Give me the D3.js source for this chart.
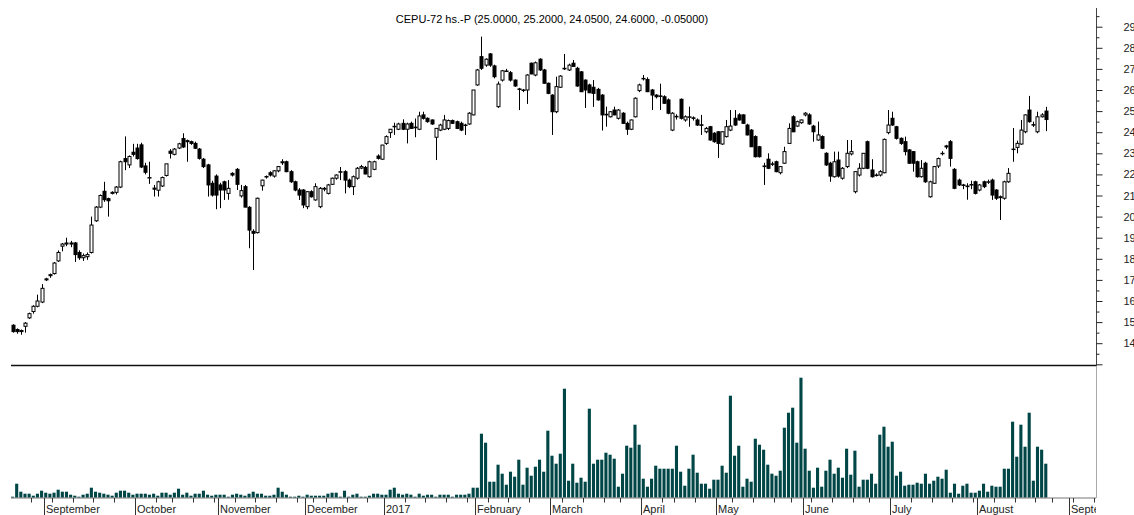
<!DOCTYPE html>
<html>
<head>
<meta charset="utf-8">
<script src="https://cdn.jsdelivr.net/npm/d3@7"></script>
<style>
    body { margin: 0; background: #fff; }
    svg { display: block; font-family: "Liberation Sans", Arial, sans-serif; }
</style>
</head>
<body>
<svg id="chart" width="1134" height="515"></svg>
<script>
var title = "CEPU-72 hs.-P (25.0000, 25.2000, 24.0500, 24.6000, -0.05000)";

// trading calendar (market closed on these days)
var firstDay = "2016-08-22";
var lastAxisDay = "2017-09-15";
var holidays = ["2016-10-10", "2016-11-28", "2016-12-08", "2016-12-09", "2016-12-30",
    "2017-02-27", "2017-02-28", "2017-03-24", "2017-04-13", "2017-04-14",
    "2017-05-01", "2017-05-25", "2017-06-20", "2017-08-21"];

var monthNames = ["January", "February", "March", "April", "May", "June", "July",
    "August", "September", "October", "November", "December"];
var priceLabels = [14, 15, 16, 17, 18, 19, 20, 21, 22, 23, 24, 25, 26, 27, 28, 29];

var open = [14.85,14.65,14.55,14.8,15.2,15.5,15.75,15.95,17.0,17.2,
    17.3,17.9,18.6,18.7,18.75,18.75,18.3,18.05,18.1,18.3,
    19.8,20.45,21.2,20.85,21.1,21.15,21.4,22.75,22.45,23.05,
    23.25,23.4,22.4,21.85,21.35,21.25,21.45,21.95,23.1,22.95,
    23.25,23.7,23.6,23.55,23.47,23.2,22.72,22.45,21.58,21.92,
    21.5,21.65,21.1,22.05,22.24,20.98,21.42,20.44,19.3,19.24,
    21.46,21.9,22.08,21.92,22.17,22.55,22.6,22.13,21.65,21.26,
    21.26,20.47,21.18,20.79,20.47,21.3,21.1,21.53,21.82,22.1,
    22.13,21.73,21.42,21.82,22.3,22.33,21.89,22.24,22.87,22.72,
    23.47,23.98,24.28,24.14,24.42,24.14,24.42,24.24,24.14,24.82,
    24.66,24.58,23.76,24.1,24.14,24.18,24.55,24.5,24.42,24.34,
    24.39,24.82,26.24,27.58,27.18,27.71,27.14,25.21,26.47,26.9,
    26.82,26.47,26.05,26.0,26.0,27.27,26.71,27.46,26.95,26.32,
    25.76,24.97,26.13,27.03,26.95,27.27,27.03,26.86,26.47,26.24,
    26.13,26.03,25.76,24.85,24.73,25.05,24.66,24.9,24.42,24.14,
    24.73,25.97,26.55,26.5,26.0,25.76,25.72,25.68,25.53,24.1,
    24.75,25.56,24.58,24.73,24.68,24.58,24.35,24.02,24.26,23.95,
    24.02,23.44,23.79,24.1,24.66,24.82,24.82,24.34,24.1,23.79,
    23.31,22.4,22.72,22.5,22.6,22.08,22.53,23.47,24.73,24.29,
    24.45,24.82,24.82,24.29,23.63,23.79,23.0,22.53,21.89,22.68,
    21.82,22.37,22.97,21.18,21.97,22.29,23.55,22.21,21.97,21.97,
    22.08,23.98,24.66,24.26,23.71,23.55,23.16,23.08,22.6,21.89,
    22.53,20.94,21.58,22.4,23.0,23.35,23.55,22.24,21.73,21.5,
    21.45,21.5,21.65,21.26,21.65,21.65,21.73,21.26,20.94,20.87,
    21.65,23.2,23.28,23.44,24.02,25.05,24.36,24.02,24.73,25.0];

var high = [14.9,14.7,14.65,15.0,15.45,15.8,16.3,16.8,17.1,17.3,
    17.85,18.4,18.75,19.0,18.85,18.8,18.4,18.25,18.3,20.0,
    20.5,21.05,21.65,20.9,21.2,21.45,22.65,23.8,22.9,23.45,
    23.45,23.5,22.55,22.6,21.5,21.7,21.9,22.5,23.2,23.25,
    23.5,23.95,23.65,23.6,23.55,23.25,22.78,22.5,21.7,22.0,
    21.6,21.7,21.73,22.1,22.3,21.5,21.5,20.5,19.4,20.9,
    21.75,21.95,22.15,22.2,22.4,22.72,22.65,22.2,21.7,21.35,
    21.3,21.2,21.25,21.58,21.4,21.4,21.55,21.85,22.0,22.35,
    22.2,21.8,21.95,22.35,22.45,22.4,22.65,22.65,22.95,23.4,
    23.85,24.15,24.45,24.45,24.61,24.45,24.5,24.65,24.97,24.97,
    24.7,24.6,24.2,24.4,24.82,24.6,24.6,24.55,24.5,24.4,
    24.95,26.0,27.0,28.53,27.5,27.75,27.2,26.4,26.95,27.0,
    26.9,26.5,26.1,26.05,26.75,27.3,27.35,27.5,27.0,26.35,
    25.8,26.63,26.7,27.71,27.25,27.42,27.1,26.9,26.5,26.3,
    26.47,26.1,25.8,25.21,25.0,25.21,25.1,24.95,24.5,24.6,
    25.65,26.3,26.71,26.6,26.05,25.8,26.3,25.75,25.6,24.95,
    24.85,25.6,24.8,25.21,24.75,24.65,24.82,24.25,24.3,24.0,
    24.05,24.05,24.58,25.05,25.05,24.9,24.85,24.4,24.15,23.85,
    23.35,22.55,23.0,22.6,22.65,22.4,23.31,24.42,24.8,24.55,
    24.6,24.95,24.9,24.35,24.5,23.85,23.05,22.6,23.08,23.08,
    22.35,23.63,23.63,22.15,22.53,23.0,23.6,22.72,22.05,22.2,
    23.7,25.05,24.97,24.3,23.75,23.79,23.2,23.1,22.65,22.68,
    22.6,21.7,22.4,22.8,23.1,23.4,23.63,22.3,21.8,21.55,
    21.58,21.7,21.7,21.55,21.7,21.75,21.8,21.3,21.0,21.7,
    22.3,24.2,23.6,24.58,24.85,25.72,24.5,24.97,24.9,25.2];

var low = [14.5,14.45,14.4,14.5,15.15,15.4,15.7,15.9,16.95,17.1,
    17.25,17.85,18.35,18.6,18.55,17.85,17.95,17.9,17.95,18.25,
    19.75,20.4,20.7,20.0,21.05,21.05,21.35,22.2,22.3,22.85,
    22.7,22.3,22.0,21.55,20.95,20.95,21.4,21.9,22.75,22.9,
    23.2,23.25,22.6,23.4,23.2,22.7,22.3,20.95,20.95,20.35,
    20.4,20.79,20.8,21.9,21.26,20.9,20.44,18.5,17.47,19.2,
    21.23,21.8,21.9,21.85,22.1,22.45,22.1,21.6,21.2,20.79,
    20.4,20.35,20.9,20.75,20.4,21.2,21.05,21.5,21.75,21.73,
    21.1,21.35,21.02,21.75,22.25,22.0,21.85,22.2,22.7,22.7,
    23.4,23.73,23.87,24.1,24.1,23.47,24.15,23.76,24.1,24.6,
    24.45,24.35,22.68,24.05,24.1,24.1,24.4,24.15,24.05,23.87,
    24.35,24.8,26.2,26.95,27.1,27.1,26.55,25.15,26.4,26.85,
    26.4,26.15,25.05,25.9,25.34,26.75,26.65,26.9,26.3,25.8,
    23.87,24.9,26.1,26.95,26.9,27.1,26.15,25.9,25.15,25.85,
    25.2,25.5,24.08,24.26,24.7,24.8,24.6,24.4,23.87,24.1,
    24.7,25.9,26.45,25.9,25.05,25.6,25.05,25.35,24.85,24.05,
    24.6,24.6,24.5,24.26,24.55,24.3,23.87,23.95,23.6,23.5,
    22.78,23.4,23.75,24.05,24.3,24.55,24.4,23.85,23.3,22.8,
    22.8,21.5,22.25,22.4,22.1,22.0,22.5,23.45,24.0,24.25,
    24.4,24.75,24.35,23.55,23.6,23.2,22.4,21.65,21.85,21.85,
    21.75,22.3,22.9,21.1,21.9,22.25,22.25,21.85,21.9,21.9,
    22.05,23.9,24.3,23.65,23.4,22.9,22.5,22.13,21.85,21.85,
    21.6,20.9,21.55,22.3,22.9,23.2,22.37,21.3,21.45,21.3,
    20.8,21.3,21.05,21.2,21.35,21.55,20.79,20.79,19.84,20.8,
    21.6,22.6,23.0,23.4,23.95,24.45,24.25,23.95,24.7,24.05];

var close = [14.55,14.55,14.6,14.95,15.4,15.75,16.0,16.6,17.05,17.25,
    17.8,18.3,18.7,18.75,18.7,18.2,18.05,18.15,18.2,19.6,
    20.45,21.0,20.8,20.75,21.15,21.4,22.6,22.6,22.85,22.95,
    22.75,22.35,22.1,21.85,21.3,21.65,21.85,22.5,23.0,23.2,
    23.45,23.3,23.55,23.47,23.24,22.76,22.37,21.5,21.02,21.02,
    21.26,21.26,21.34,21.97,21.53,21.23,20.45,19.36,19.21,20.87,
    21.73,21.89,21.97,22.17,22.37,22.6,22.13,21.65,21.26,21.02,
    20.55,21.18,20.94,21.42,21.34,21.34,21.5,21.82,21.97,22.13,
    21.73,21.42,21.89,22.29,22.37,22.02,22.6,22.6,22.76,23.39,
    23.79,24.14,24.26,24.39,24.14,24.39,24.18,24.21,24.77,24.66,
    24.5,24.39,24.18,24.34,24.58,24.55,24.42,24.18,24.1,24.34,
    24.9,26.0,26.95,27.03,27.46,27.18,26.63,26.28,26.91,26.9,
    26.47,26.19,26.03,26.0,26.71,26.76,27.29,26.95,26.32,25.84,
    24.97,26.16,26.66,27.0,27.18,27.12,26.19,25.92,26.0,25.87,
    25.84,25.53,24.82,24.82,24.97,24.82,25.05,24.42,24.14,24.58,
    25.61,26.24,26.55,25.92,25.76,25.68,25.7,25.37,24.9,24.9,
    24.73,24.66,24.73,24.73,24.66,24.34,24.34,24.18,23.63,23.55,
    23.47,24.02,24.26,24.29,24.34,24.58,24.42,23.87,23.31,22.84,
    22.84,22.37,22.29,22.5,22.13,22.37,23.08,24.18,24.02,24.5,
    24.58,24.9,24.39,24.02,23.87,23.24,22.45,21.92,22.6,21.92,
    22.29,23.0,23.08,22.13,22.29,23.0,22.29,21.89,21.97,22.13,
    23.66,24.34,24.34,23.71,23.47,23.08,22.53,22.53,21.89,22.29,
    21.65,21.65,22.37,22.75,23.0,23.3,22.76,21.34,21.5,21.48,
    21.42,21.52,21.1,21.5,21.42,21.65,21.02,20.87,20.9,21.65,
    22.05,23.2,23.47,24.1,24.82,24.5,24.34,24.73,24.82,24.6];

var volume = [1,14,6,4,4,2,4,7,5,4,
    5,8,6,6,3,2,1,3,4,10,
    6,5,4,3,2,5,7,7,5,3,
    4,4,4,3,4,2,5,5,3,5,
    9,3,5,2,4,4,7,3,2,3,
    3,3,1,3,4,3,2,4,6,4,
    4,2,2,3,10,6,3,1,1,2,
    1,3,2,2,2,2,4,5,5,1,
    7,1,3,4,1,1,2,4,4,3,
    3,8,10,4,3,4,3,1,4,2,
    3,3,1,3,3,3,1,3,3,3,
    4,10,10,64,55,16,16,33,24,13,
    26,21,38,13,30,22,31,38,26,67,
    42,34,44,109,17,34,15,20,16,89,
    34,38,38,45,43,39,11,24,52,50,
    73,53,19,11,19,32,29,29,29,29,
    52,26,12,29,43,25,14,14,9,18,
    18,32,25,102,42,52,11,19,16,59,
    53,48,33,24,22,27,70,85,90,55,
    120,49,27,10,30,11,27,38,24,30,
    20,49,23,47,11,18,18,24,14,63,
    71,51,56,22,26,12,13,13,15,14,
    24,14,17,21,19,28,5,14,4,12,
    14,5,5,7,14,6,12,11,11,29,
    29,76,41,73,51,85,17,51,48,34];

var chart = {};
chart.svg = d3.select('#chart');
chart.left = 11;
chart.right = 1096;

// trading days, data first, then the empty days the axis still shows
var fmt = d3.timeFormat('%Y-%m-%d');
var parseDay = d3.timeParse('%Y-%m-%d');
var closedDays = new Set(holidays);
var days = d3.timeDay.range(parseDay(firstDay), d3.timeDay.offset(parseDay(lastAxisDay), 1))
    .filter(function (d) {
        return d.getDay() > 0 && d.getDay() < 6 && !closedDays.has(fmt(d));
    });

var bars = close.map(function (c, i) {
    return {i: i, o: open[i], h: high[i], l: low[i], c: c, v: volume[i]};
});

var x = d3.scaleLinear().domain([-0.37, 261.1]).range([chart.left, chart.right]);
var yPrice = d3.scaleLinear().domain([13, 29]).range([364.3, 26.7]);
var yVol = d3.scaleLinear().domain([0, 130]).range([497.7, 367.7]);

chart.svg.append('defs').append('clipPath').attr('id', 'plotclip')
    .append('rect').attr('x', 0).attr('y', 0).attr('width', chart.right).attr('height', 515);

// title
chart.svg.append('text')
    .attr('x', 552).attr('y', 22.5)
    .attr('text-anchor', 'middle')
    .attr('font-size', '11px')
    .attr('fill', '#000')
    .text(title);

// panel separator
chart.svg.append('line')
    .attr('x1', chart.left).attr('x2', chart.right)
    .attr('y1', 365.5).attr('y2', 365.5)
    .attr('stroke', '#111').attr('stroke-width', 1.3);

// right price axis
chart.svg.append('line')
    .attr('x1', chart.right + 0.5).attr('x2', chart.right + 0.5)
    .attr('y1', 8).attr('y2', 366)
    .attr('stroke', '#444');
chart.svg.append('line')
    .attr('x1', chart.right + 0.5).attr('x2', chart.right + 0.5)
    .attr('y1', 366).attr('y2', 498)
    .attr('stroke', '#aaa');

var majorAxis = d3.axisRight(yPrice)
    .tickValues([13].concat(priceLabels))
    .tickSize(6)
    .tickFormat(function (d) { return priceLabels.indexOf(d) >= 0 ? d : ''; });
var gMajor = chart.svg.append('g')
    .attr('transform', 'translate(' + (chart.right + 0.5) + ',0)')
    .call(majorAxis);
gMajor.select('.domain').remove();
gMajor.selectAll('line').attr('stroke', '#222');
// labels sit far right, the window edge cuts them
gMajor.selectAll('text')
    .attr('x', 27)
    .attr('text-anchor', 'start')
    .attr('font-size', '11px')
    .attr('font-family', '"Liberation Sans", Arial, sans-serif')
    .attr('fill', '#222');

var minorAxis = d3.axisRight(yPrice)
    .tickValues(d3.range(13.5, 30, 1))
    .tickSize(3)
    .tickFormat('');
var gMinor = chart.svg.append('g')
    .attr('transform', 'translate(' + (chart.right + 0.5) + ',0)')
    .call(minorAxis);
gMinor.select('.domain').remove();
gMinor.selectAll('line').attr('stroke', '#222');

// volume
chart.svg.append('g').selectAll('rect').data(bars).enter().append('rect')
    .attr('x', function (d) { return x(d.i) - 1.55; })
    .attr('width', 3.1)
    .attr('y', function (d) { return yVol(d.v); })
    .attr('height', function (d) { return yVol(0) - yVol(d.v); })
    .attr('fill', '#014646');

// candles
var candle = chart.svg.append('g').selectAll('g').data(bars).enter().append('g');
candle.append('line')
    .attr('x1', function (d) { return Math.round(x(d.i)) + 0.5; })
    .attr('x2', function (d) { return Math.round(x(d.i)) + 0.5; })
    .attr('y1', function (d) { return yPrice(d.h); })
    .attr('y2', function (d) { return yPrice(d.l); })
    .attr('stroke', '#000').attr('stroke-width', 1);
candle.append('rect')
    .attr('x', function (d) { return Math.round(x(d.i)) - 1; })
    .attr('width', 3)
    .attr('y', function (d) { return yPrice(Math.max(d.o, d.c)); })
    .attr('height', function (d) { return Math.max(0.5, yPrice(Math.min(d.o, d.c)) - yPrice(Math.max(d.o, d.c))); })
    .attr('fill', function (d) { return d.c >= d.o ? '#fff' : '#000'; })
    .attr('stroke', '#000').attr('stroke-width', 1);

// time axis: week ticks and month lines
var axis = chart.svg.append('g').attr('clip-path', 'url(#plotclip)');
axis.append('line')
    .attr('x1', chart.left).attr('x2', chart.right)
    .attr('y1', 498).attr('y2', 498)
    .attr('stroke', '#777');

days.forEach(function (d, i) {
    if (i === 0) return;
    var prev = days[i - 1],
        xx = Math.round(x(i - 0.5)) + 0.5;
    if (d.getMonth() !== prev.getMonth()) {
        axis.append('line')
            .attr('x1', xx).attr('x2', xx).attr('y1', 498).attr('y2', 515)
            .attr('stroke', '#333');
        axis.append('text')
            .attr('x', xx + 1.5).attr('y', 513)
            .attr('font-size', '11px')
            .attr('fill', '#222')
            .text(d.getMonth() === 0 ? d.getFullYear() : monthNames[d.getMonth()]);
    } else if (d.getDay() < prev.getDay() || (d - prev) > 6 * 864e5) {
        axis.append('line')
            .attr('x1', xx).attr('x2', xx).attr('y1', 498).attr('y2', 502.5)
            .attr('stroke', '#333');
    }
});
</script>
</body>
</html>
